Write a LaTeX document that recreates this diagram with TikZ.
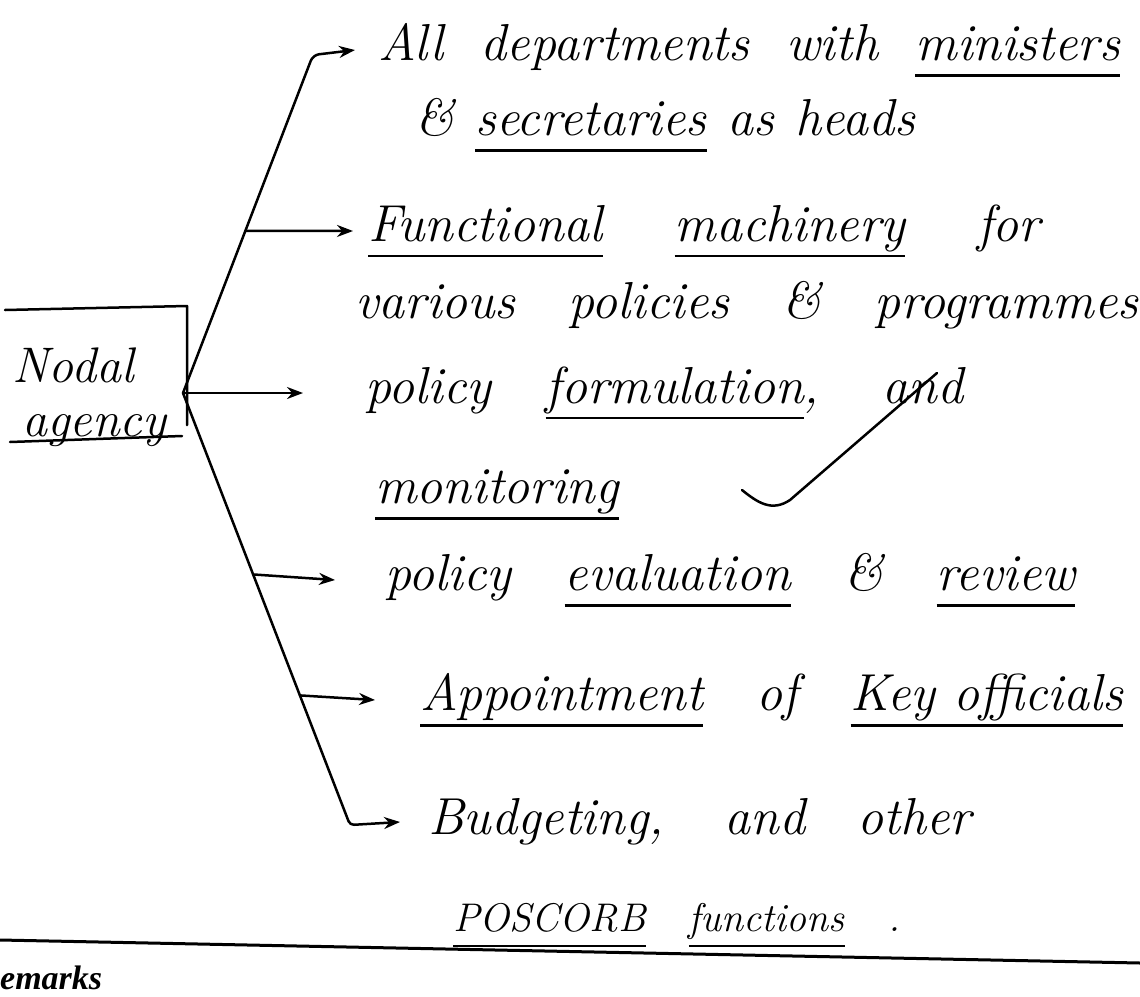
\documentclass[tikz,border=0pt]{standalone}
\usepackage{fontspec}
\usepackage{tikz}
\usetikzlibrary{arrows.meta,calc,positioning}
\newfontfamily\printfont{Liberation Serif}
\newcommand{\handfont}{\fontsize{52}{58}\selectfont\itshape}
\newcommand{\penline}[2]{\makebox[#1pt][s]{#2}}
\newcommand{\markword}[1]{{\sbox0{#1}\rlap{\rule[-16pt]{\wd0}{2.5pt}}\usebox0}}
\tikzset{%
	pen/.style    = {line width=2.5pt, line cap=round, line join=round},
	arrow/.style  = {pen,-{Stealth[length=16pt,width=12pt]}},
	item/.style   = {font=\handfont, inner sep=0pt, anchor=west},
	agency/.style = {font=\fontsize{50}{54}\selectfont\itshape, align=left, inner sep=0pt, anchor=north west},
}

\begin{document}
\begin{tikzpicture}[x=1pt,y=-1pt]
	\useasboundingbox (0,0) rectangle (1140,996);
	
	% nodal agency box
	\node[agency] (nodal) at (12,348) {Nodal\\\hspace*{10pt}agency};
	\draw[pen] (5,310) -- (187,306) -- (187,425);
	\draw[pen] (10,442) -- (182,436);
	
	\coordinate (hub) at (183,393);
	\coordinate (topkink) at (313,55);
	\coordinate (lowkink) at (350,825);
	\coordinate (t1) at (355,50);
	\coordinate (t2) at (353,231);
	\coordinate (t3) at (303,393);
	\coordinate (t4) at (335,580);
	\coordinate (t5) at (375,700);
	\coordinate (t6) at (400,822);
	
	% branches
	\draw[arrow,rounded corners=6pt] (hub) -- (topkink) -- (t1);
	\draw[arrow] ($(hub)!0.48!(topkink)$) -- (t2);
	\draw[arrow] (hub) -- (t3);
	\draw[arrow] ($(hub)!0.42!(lowkink)$) -- (t4);
	\draw[arrow] ($(hub)!0.70!(lowkink)$) -- (t5);
	\draw[arrow,rounded corners=4pt] (hub) -- (lowkink) -- (t6);
	
	% functions
	\node[item, right=23pt of t1] (dept) {\penline{742}{All departments with \markword{ministers}}};
	\node[item] (secr) at (415,125) {\penline{500}{\& \markword{secretaries} as heads}};
	\node[item, right=15pt of t2] (func) {\penline{672}{\markword{Functional} \markword{machinery} for}};
	\node[item] (prog) at (355,305) {\penline{783}{various policies \& programmes}};
	\node[item, right=62pt of t3] (form) {\penline{598}{policy \markword{formulation}, and}};
	\node[item] (moni) at (375,495) {\markword{monitoring}};
	\node[item, right=50pt of t4] (eval) {\penline{690}{policy \markword{evaluation} \& \markword{review}}};
	\node[item, right=45pt of t5] (appt) {\penline{703}{\markword{Appointment} of \markword{Key officials}}};
	\node[item, right=28pt of t6] (budg) {\penline{543}{Budgeting, and other}};
	\node[item, font=\fontsize{40}{46}\selectfont\itshape] (posc) at (453,925) {\penline{447}{\markword{POSCORB} \markword{functions} .}};
	
	% tick
	\draw[pen] (742,490) .. controls (758,503) and (772,512) .. (790,500) -- (937,373);
	
	% remarks rule
	\draw[line width=3pt] (0,940) -- (1140,963);
	\node[font=\printfont\bfseries\itshape\fontsize{34}{34}\selectfont, anchor=west, inner sep=0pt] (remk) at (0,978) {emarks};
	
\end{tikzpicture}
\end{document}
